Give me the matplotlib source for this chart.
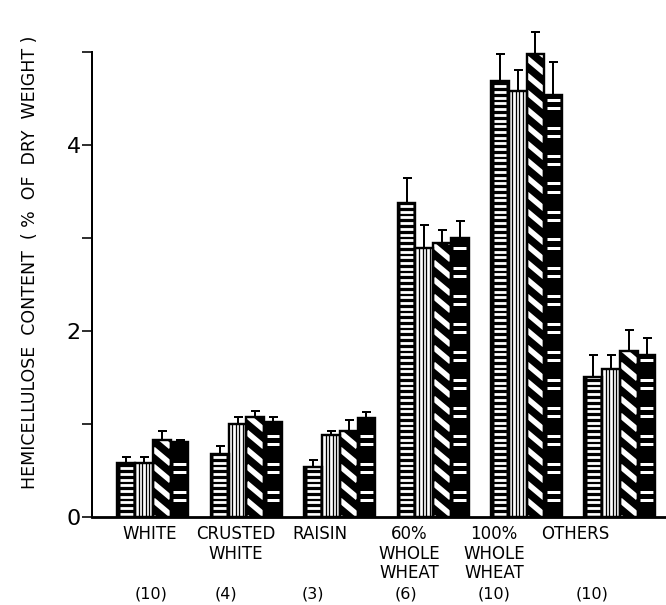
import numpy as np
import matplotlib
matplotlib.use("Agg")
import matplotlib.pyplot as plt
from matplotlib.collections import LineCollection
from matplotlib.ticker import MultipleLocator, NullFormatter

# Bread types, number of loaves analysed, and hemicellulose by four methods
categories = ["WHITE", "CRUSTED\nWHITE", "RAISIN", "60%\nWHOLE\nWHEAT",
              "100%\nWHOLE\nWHEAT", "OTHERS"]
sample_counts = ["(10)", "(4)", "(3)", "(6)", "(10)", "(10)"]

method_a = [0.58, 0.68, 0.54, 3.38, 4.69, 1.51]
method_b = [0.58, 1.00, 0.88, 2.89, 4.58, 1.59]
method_c = [0.83, 1.07, 0.93, 2.95, 4.98, 1.79]
method_d = [0.81, 1.02, 1.06, 3.00, 4.54, 1.74]

err_a = [0.07, 0.08, 0.07, 0.26, 0.29, 0.23]
err_b = [0.07, 0.07, 0.05, 0.25, 0.23, 0.15]
err_c = [0.09, 0.07, 0.11, 0.14, 0.23, 0.22]
err_d = [0.02, 0.05, 0.07, 0.18, 0.35, 0.18]

y_ticks = [0, 2, 4]
y_tick_labels = ["0", "2", "4"]

W_PX, H_PX, DPI = 666, 605, 100
PT = 72.0 / DPI  # points per pixel

fig = plt.figure(figsize=(W_PX / DPI, H_PX / DPI), dpi=DPI)
ax_left, ax_bottom, ax_w, ax_h = 92, 88, 574, 465
ax = fig.add_axes([ax_left / W_PX, ax_bottom / H_PX, ax_w / W_PX, ax_h / H_PX])

x_lo, x_hi = -0.653, 5.493
ax.set_xlim(x_lo, x_hi)
ax.set_ylim(0, 5)
ux = (x_hi - x_lo) / ax_w   # data units per pixel, horizontal
uy = 5.0 / ax_h             # data units per pixel, vertical

x = np.arange(len(categories))
series = [method_a, method_b, method_c, method_d]
errors = [err_a, err_b, err_c, err_d]
bar_w = 0.19
faces = ["black", "white", "black", "black"]


def fill_pattern(kind, rect):
    x0, wd, h = rect.get_x(), rect.get_width(), rect.get_height()
    if kind == 0:
        # white horizontal stripes on black
        period = 5.7 * uy
        ys = np.arange(period * 0.55, h, period)
        art = ax.hlines(ys, x0 + 2.5 * ux, x0 + wd - 2.5 * ux,
                        colors="white", linewidth=2.8 * PT, zorder=3)
    elif kind == 1:
        # thin vertical rules on white
        xs = x0 + wd * np.arange(1, 5) / 5.0
        art = ax.vlines(xs, 0, h, colors="black", linewidth=1.3 * PT, zorder=3)
    elif kind == 2:
        # white diagonal stripes on black, falling to the right
        period = 17.0 * uy
        drop = np.tan(np.radians(40)) * (wd / ux) * uy
        cs = np.arange(0, h + drop + period, period)
        segs = [[(x0, c), (x0 + wd, c - drop)] for c in cs]
        art = LineCollection(segs, colors="white", linewidths=5.5 * PT, zorder=3)
        ax.add_collection(art)
    else:
        # pairs of short white dashes on black
        ys = []
        for base in np.arange(17.0, h / uy - 3.0, 28.0):
            for off in (0.0, 8.5):
                if base + off < h / uy - 3.0:
                    ys.append((base + off) * uy)
        art = ax.hlines(ys, x0 + 2.5 * ux, x0 + wd - 2.5 * ux,
                        colors="white", linewidth=3.0 * PT, zorder=3)
    art.set_clip_path(rect)


for j, (vals, errs) in enumerate(zip(series, errors)):
    xs = x + (j - 1.5) * bar_w
    bars = ax.bar(xs, vals, bar_w, color=faces[j], edgecolor="none", zorder=2)
    for rect in bars:
        fill_pattern(j, rect)
    ax.bar(xs, vals, bar_w, fill=False, edgecolor="black",
           linewidth=2.4 * PT, zorder=4)
    eb = ax.errorbar(xs, vals, yerr=[np.zeros(len(vals)), errs], fmt="none",
                     ecolor="black", elinewidth=2.0 * PT, capsize=4.5 * PT,
                     capthick=2.0 * PT, zorder=3.5)
    for art in list(eb.lines[1]) + list(eb.lines[2]):
        art.set_clip_on(False)

# axes styling
for side in ("top", "right"):
    ax.spines[side].set_visible(False)
ax.spines["left"].set_linewidth(2.0 * PT)
ax.spines["bottom"].set_linewidth(2.8 * PT)
ax.set_xticks([])
ax.set_yticks(y_ticks)
ax.set_yticklabels(y_tick_labels)
ax.yaxis.set_minor_locator(MultipleLocator(1))
ax.yaxis.set_minor_formatter(NullFormatter())
ax.tick_params(axis="y", which="both", direction="out", length=10 * PT,
               width=1.6 * PT, labelsize=16, pad=1)

# category names and sample counts beneath the axis
label_px = [150, 236, 320, 409, 494, 575]
count_px = [151, 226, 313, 406, 494, 592]
for name, px in zip(categories, label_px):
    fig.text(px / W_PX, 1 - 525 / H_PX, name, ha="center", va="top",
             fontsize=12, linespacing=1.12)
for cnt, px in zip(sample_counts, count_px):
    fig.text(px / W_PX, 1 - 594 / H_PX, cnt, ha="center", va="center",
             fontsize=11.5)

fig.text(30 / W_PX, 1 - 262 / H_PX,
         "HEMICELLULOSE  CONTENT  ( %  OF  DRY  WEIGHT )",
         rotation=90, ha="center", va="center", fontsize=12.5)

fig.savefig("out.png", dpi=DPI)
